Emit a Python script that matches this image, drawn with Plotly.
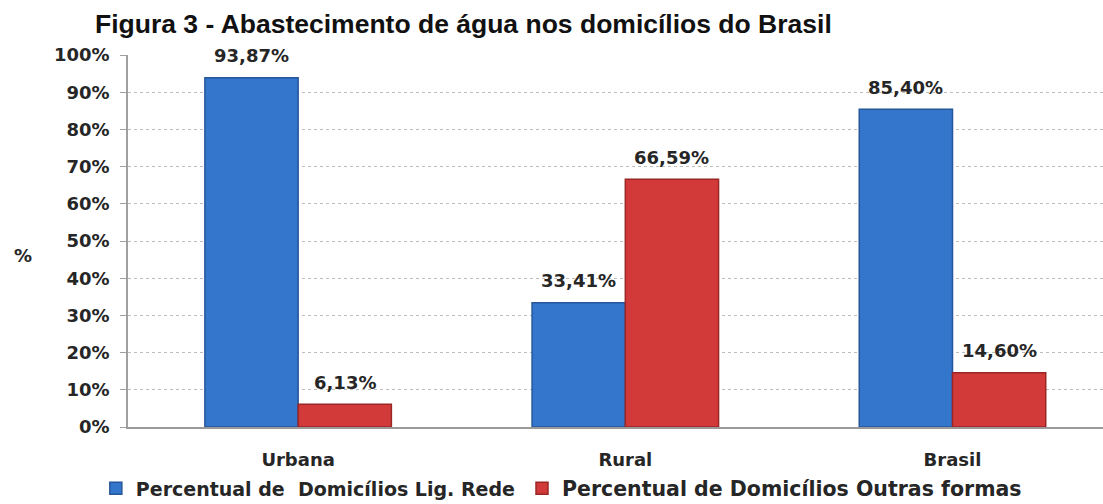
import plotly.graph_objects as go

# Abastecimento de água por situação do domicílio (%)
categorias = ["Urbana", "Rural", "Brasil"]
lig_rede = [93.87, 33.41, 85.40]
outras_formas = [6.13, 66.59, 14.60]
nomes_series = ["Percentual de  Domicílios Lig. Rede", "Percentual de Domicílios Outras formas"]
ticks_y = [0, 10, 20, 30, 40, 50, 60, 70, 80, 90, 100]

FONTE = "'DejaVu Sans', Verdana, sans-serif"
COR_TEXTO = "#262626"
CORES = ["#3476cc", "#d23a3a"]
BORDAS = ["#25569a", "#9a2626"]
LARGURA_PLOT = 975
UNIDADE_CAT = LARGURA_PLOT / 2.98          # px por categoria
DESLOC = UNIDADE_CAT * (1 - 0.43) / 4      # meia largura de barra


def rotulo(v):
    return f"{v:.2f}%".replace(".", ",")


fig = go.Figure()
for nome, valores, cor, borda, leg in zip(nomes_series, [lig_rede, outras_formas], CORES, BORDAS,
                                          ["legend", "legend2"]):
    fig.add_trace(go.Bar(
        x=categorias, y=valores, name=nome, legend=leg,
        marker=dict(color=cor, line=dict(color=borda, width=1.5)),
    ))

# rótulos de valor acima de cada barra
for valores, sinal in [(lig_rede, -1), (outras_formas, 1)]:
    for cat, v in zip(categorias, valores):
        fig.add_annotation(
            x=cat, y=v, text=rotulo(v), showarrow=False,
            xanchor="center", yanchor="middle",
            xshift=sinal * DESLOC, yshift=22,
            font=dict(family=FONTE, size=18, color=COR_TEXTO, weight="bold"),
        )

fig.update_layout(
    width=1103, height=504,
    margin=dict(l=128, r=0, t=55, b=77, autoexpand=False),
    paper_bgcolor="white", plot_bgcolor="white",
    barmode="group", bargap=0.43, bargroupgap=0,
    showlegend=True,
    legend=dict(
        orientation="h", x=-0.033, y=-0.165, xanchor="left", yanchor="middle",
        font=dict(family=FONTE, size=19, color=COR_TEXTO, weight="bold"), itemwidth=30,
    ),
    legend2=dict(
        orientation="h", x=(522 - 128) / LARGURA_PLOT, y=-0.165, xanchor="left", yanchor="middle",
        font=dict(family=FONTE, size=20.5, color=COR_TEXTO, weight="bold"), itemwidth=30,
    ),
    title=dict(
        text="Figura 3 - Abastecimento de água nos domicílios do Brasil",
        x=95 / 1103, xanchor="left", y=1 - 24 / 504, yanchor="middle",
        font=dict(family="'Liberation Sans', Arial, sans-serif", size=26.5, color="#111111", weight="bold"),
    ),
)

fig.update_xaxes(
    type="category", range=[-0.52, 2.46],
    showline=True, linecolor="#9a9a9a", linewidth=1.5,
    showgrid=False, ticks="", ticklabelstandoff=16,
    tickfont=dict(family=FONTE, size=18, color=COR_TEXTO, weight="bold"),
)
fig.update_yaxes(
    range=[0, 100], tickvals=ticks_y, ticktext=[f"{t}%" for t in ticks_y],
    showline=True, linecolor="#a0a0a0", linewidth=1.5,
    ticks="outside", ticklen=6, tickcolor="#a0a0a0", ticklabelstandoff=7,
    showgrid=True, gridcolor="#bdbdbd", griddash="dot", gridwidth=1,
    zeroline=False,
    tickfont=dict(family=FONTE, size=18, color=COR_TEXTO, weight="bold"),
)

fig.add_annotation(
    text="%", xref="paper", yref="paper", x=-116 / LARGURA_PLOT, y=0.46,
    xanchor="left", yanchor="middle", showarrow=False,
    font=dict(family=FONTE, size=18, color=COR_TEXTO, weight="bold"),
)

fig.write_html("out.html")
